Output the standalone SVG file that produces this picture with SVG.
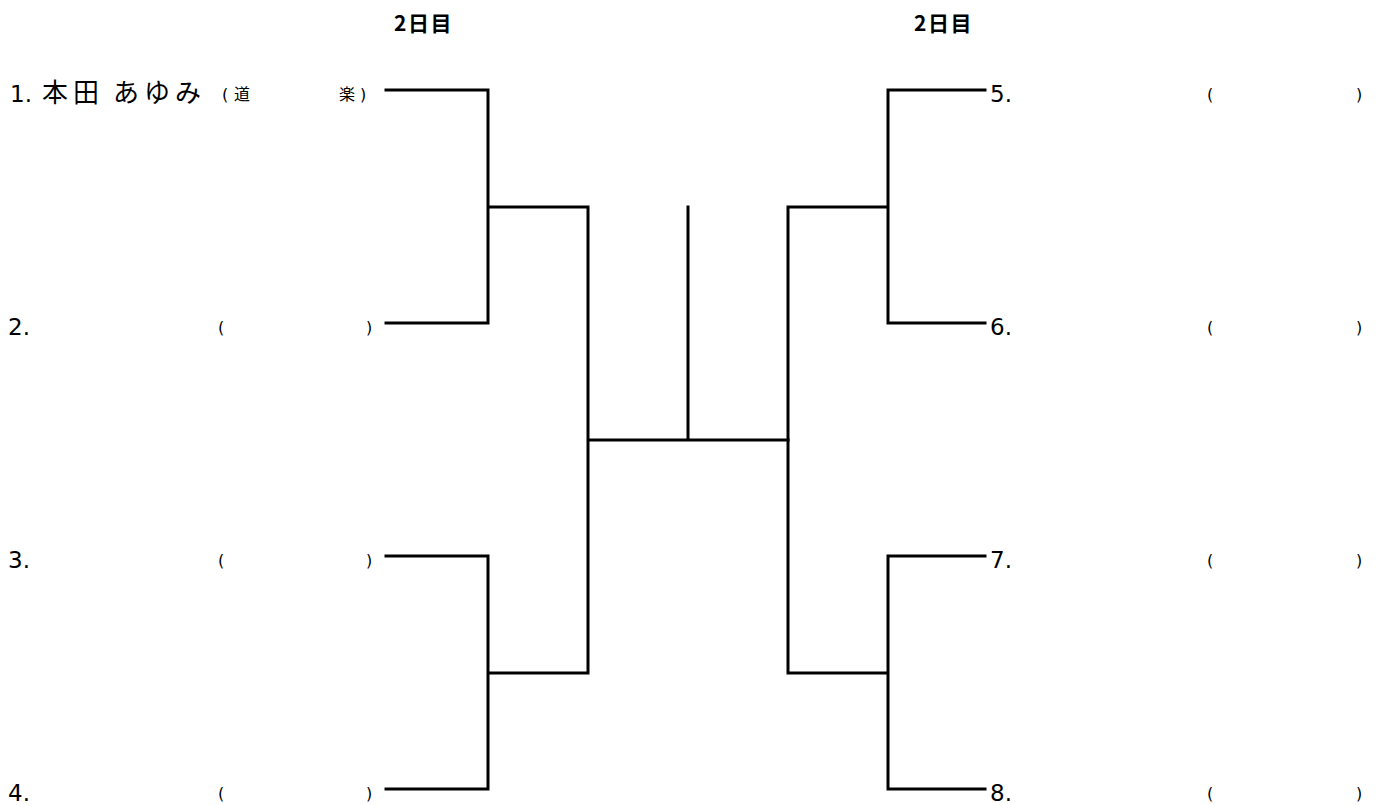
<svg xmlns="http://www.w3.org/2000/svg" width="1381" height="805" viewBox="0 0 1381 805">
<style>
.ln{stroke:#000;stroke-width:3;fill:none;stroke-linecap:square}
.nm{font-family:"DejaVu Sans","Noto Sans CJK JP",sans-serif;font-size:23px;fill:#000}
.cj{font-family:"Noto Sans CJK JP",sans-serif;font-size:26px;letter-spacing:5px}
.pr{font-family:"DejaVu Sans","Noto Sans CJK JP",sans-serif;font-size:16px;fill:#000}
.hd{font-family:"Noto Sans CJK JP",sans-serif;font-size:21px;font-weight:bold;fill:#000;letter-spacing:1.5px}
</style>
<rect width="1381" height="805" fill="#fff"/>
<g id="headers">
<text class="hd" x="394" y="31">2日目</text>
<text class="hd" x="914" y="31">2日目</text>
</g>
<g id="connectors">
<path class="ln" d="M386,90H488V323H386M488,207H588V673H488M386,556H488V789H386M588,440H788M688,207V440"/>
<path class="ln" d="M985,90H888V323H985M888,207H788V673H888M985,556H888V789H985"/>
</g>
<g id="p1"><text class="nm" x="10" y="102">1.<tspan class="cj" x="42">本田</tspan><tspan class="cj" x="113">あゆみ</tspan></text><text class="pr" x="222" y="100">(</text><text class="pr" x="234" y="100" font-family="Noto Sans CJK JP">道</text><text class="pr" x="339" y="100" font-family="Noto Sans CJK JP">楽</text><text class="pr" x="360" y="100">)</text></g>
<g id="p2"><text class="nm" x="8" y="335">2.</text><text class="pr" x="218" y="333">(</text><text class="pr" x="366" y="333">)</text></g>
<g id="p3"><text class="nm" x="8" y="568">3.</text><text class="pr" x="218" y="566">(</text><text class="pr" x="366" y="566">)</text></g>
<g id="p4"><text class="nm" x="8" y="801">4.</text><text class="pr" x="218" y="799">(</text><text class="pr" x="366" y="799">)</text></g>
<g id="p5"><text class="nm" x="990" y="102">5.</text><text class="pr" x="1207" y="100">(</text><text class="pr" x="1356" y="100">)</text></g>
<g id="p6"><text class="nm" x="990" y="335">6.</text><text class="pr" x="1207" y="333">(</text><text class="pr" x="1356" y="333">)</text></g>
<g id="p7"><text class="nm" x="990" y="568">7.</text><text class="pr" x="1207" y="566">(</text><text class="pr" x="1356" y="566">)</text></g>
<g id="p8"><text class="nm" x="990" y="801">8.</text><text class="pr" x="1207" y="799">(</text><text class="pr" x="1356" y="799">)</text></g>
</svg>
